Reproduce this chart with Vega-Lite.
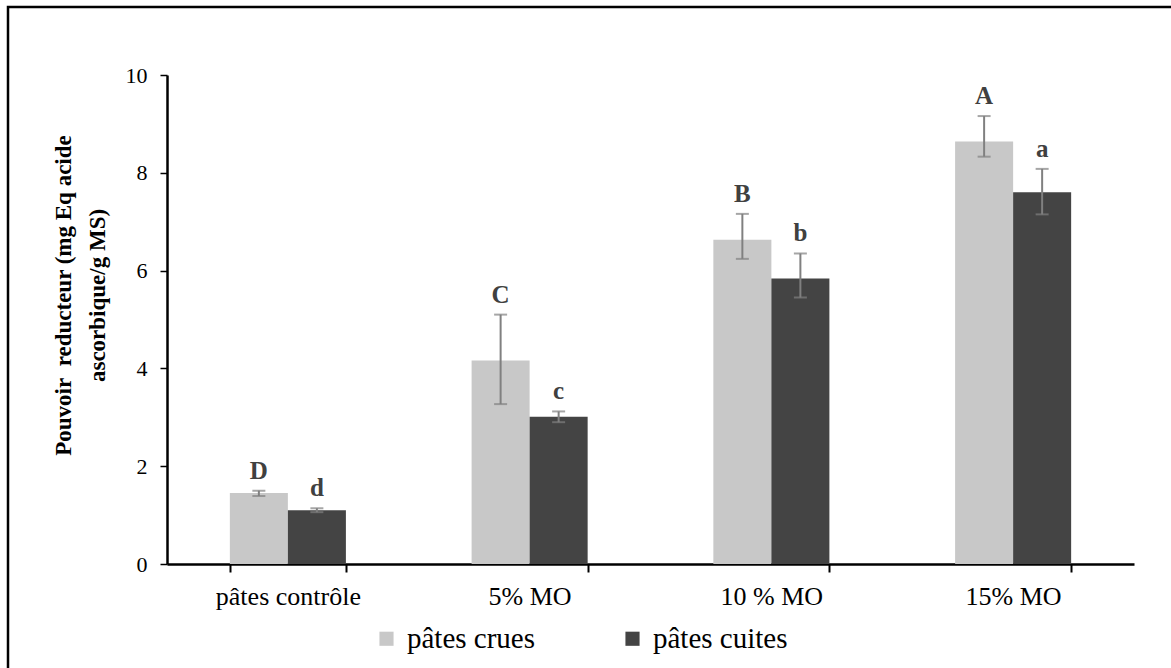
{
  "$schema": "https://vega.github.io/schema/vega-lite/v6.json",
  "width": 1175,
  "height": 672,
  "autosize": {"type": "none"},
  "padding": {"left": 8, "top": 7, "right": 0, "bottom": 0},
  "background": "white",
  "config": {
    "font": "Liberation Serif",
    "axis": {"labelFont": "Liberation Serif", "titleFont": "Liberation Serif"},
    "legend": {"labelFont": "Liberation Serif", "titleFont": "Liberation Serif"},
    "text": {"font": "Liberation Serif"},
    "view": {"stroke": "black", "strokeWidth": 2.5}
  },
  "data": {
    "values": [
      {"groupe": "pâtes contrôle", "type": "pâtes crues", "valeur": 1.45, "bas": 1.39, "haut": 1.5, "lettre": "D"},
      {"groupe": "pâtes contrôle", "type": "pâtes cuites", "valeur": 1.1, "bas": 1.06, "haut": 1.14, "lettre": "d"},
      {"groupe": "5% MO", "type": "pâtes crues", "valeur": 4.16, "bas": 3.27, "haut": 5.1, "lettre": "C"},
      {"groupe": "5% MO", "type": "pâtes cuites", "valeur": 3.01, "bas": 2.9, "haut": 3.12, "lettre": "c"},
      {"groupe": "10 % MO", "type": "pâtes crues", "valeur": 6.63, "bas": 6.24, "haut": 7.16, "lettre": "B"},
      {"groupe": "10 % MO", "type": "pâtes cuites", "valeur": 5.84, "bas": 5.45, "haut": 6.35, "lettre": "b"},
      {"groupe": "15% MO", "type": "pâtes crues", "valeur": 8.64, "bas": 8.33, "haut": 9.16, "lettre": "A"},
      {"groupe": "15% MO", "type": "pâtes cuites", "valeur": 7.6, "bas": 7.15, "haut": 8.08, "lettre": "a"}
    ]
  },
  "encoding": {
    "x": {
      "field": "groupe",
      "type": "nominal",
      "sort": ["pâtes contrôle", "5% MO", "10 % MO", "15% MO"],
      "scale": {"range": [159, 1126], "paddingInner": 0.52, "paddingOuter": 0.26},
      "axis": {
        "title": null,
        "offset": -115,
        "labelAngle": 0,
        "labelFont": "Liberation Serif",
        "labelFontSize": 26,
        "labelColor": "black",
        "labelPadding": 11,
        "tickBand": "extent",
        "tickSize": 8,
        "tickWidth": 2,
        "tickColor": "black",
        "domainColor": "black",
        "domainWidth": 2.5
      }
    },
    "xOffset": {"field": "type", "type": "nominal", "sort": ["pâtes crues", "pâtes cuites"]}
  },
  "layer": [
    {
      "mark": {"type": "bar"},
      "encoding": {
        "y": {
          "field": "valeur",
          "type": "quantitative",
          "scale": {"domain": [0, 10], "range": [557, 68], "nice": false},
          "axis": {
            "title": ["Pouvoir\u00a0 reducteur (mg Eq acide", "ascorbique/g MS)"],
            "titleFont": "Liberation Serif",
            "titleFontSize": 23,
            "titleFontWeight": "bold",
            "titleColor": "black",
            "titleAngle": -90,
            "titleAlign": "center",
            "titleBaseline": "middle",
            "titleLineHeight": 34,
            "titleX": -104,
            "titleY": 288,
            "offset": -159,
            "values": [0, 2, 4, 6, 8, 10],
            "format": "d",
            "grid": false,
            "labelFont": "Liberation Serif",
            "labelFontSize": 22,
            "labelColor": "black",
            "labelPadding": 13,
            "tickSize": 7,
            "tickWidth": 1.5,
            "tickColor": "black",
            "domainColor": "black",
            "domainWidth": 2.5
          }
        },
        "color": {
          "field": "type",
          "type": "nominal",
          "scale": {"domain": ["pâtes crues", "pâtes cuites"], "range": ["#c8c8c8", "#444444"]},
          "legend": {
            "title": null,
            "orient": "none",
            "direction": "horizontal",
            "legendX": 364,
            "legendY": 617,
            "symbolType": "square",
            "symbolSize": 200,
            "symbolStrokeWidth": 0,
            "labelFont": "Liberation Serif",
            "labelFontSize": 29,
            "labelColor": "black",
            "labelOffset": 6,
            "columnPadding": 82
          }
        }
      }
    },
    {
      "mark": {"type": "rule", "color": "#808080", "strokeWidth": 2},
      "encoding": {
        "y": {"field": "bas", "type": "quantitative"},
        "y2": {"field": "haut"}
      }
    },
    {
      "mark": {"type": "tick", "color": "#808080", "size": 13, "thickness": 2},
      "encoding": {"y": {"field": "bas", "type": "quantitative"}}
    },
    {
      "mark": {"type": "tick", "color": "#808080", "size": 13, "thickness": 2},
      "encoding": {"y": {"field": "haut", "type": "quantitative"}}
    },
    {
      "mark": {"type": "text", "dy": -20, "baseline": "middle", "font": "Liberation Serif", "fontSize": 25, "fontWeight": "bold", "color": "#404040"},
      "encoding": {
        "y": {"field": "haut", "type": "quantitative"},
        "text": {"field": "lettre"}
      }
    }
  ]
}
